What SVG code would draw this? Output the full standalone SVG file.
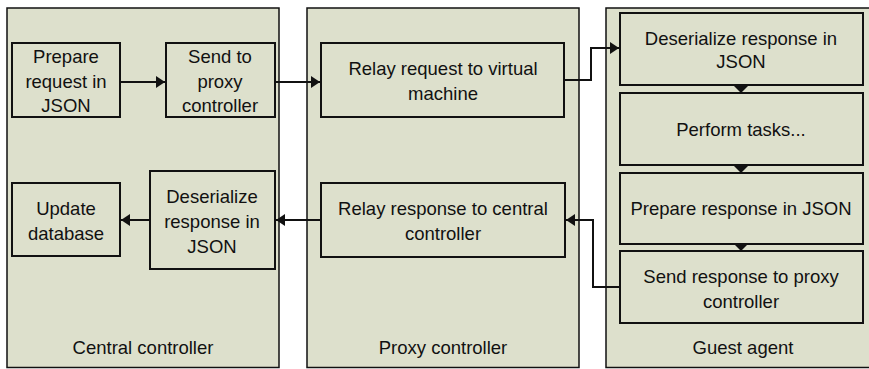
<svg xmlns="http://www.w3.org/2000/svg" width="869" height="369" viewBox="0 0 869 369">
<style>
.panel{fill:#dde0cc;stroke:#111;stroke-width:1.5}
.box{fill:#dde0cc;stroke:#111;stroke-width:2}
.t{font-family:"Liberation Sans",Arial,sans-serif;font-size:18.5px;fill:#111;text-anchor:middle}
.c{fill:none;stroke:#111;stroke-width:2}
</style>
<defs>
<marker id="arr" markerUnits="userSpaceOnUse" markerWidth="10" markerHeight="14" refX="9" refY="7" orient="auto"><path d="M0,1 L9,7 L0,13 z" fill="#111"/></marker>
<marker id="arrFlat" markerUnits="userSpaceOnUse" markerWidth="8" markerHeight="16" refX="7" refY="8" orient="auto"><path d="M0,1 L7,8 L0,15 z" fill="#111"/></marker>
</defs>
<rect width="869" height="369" fill="#fff"/>
<g id="central-panel"><rect class="panel" x="7" y="8" width="272" height="359.5"/><text class="t" x="143" y="354">Central controller</text></g>
<g id="proxy-panel"><rect class="panel" x="307" y="8" width="272" height="359.5"/><text class="t" x="443" y="354">Proxy controller</text></g>
<g id="guest-panel"><rect class="panel" x="606" y="8" width="270" height="359.5"/><text class="t" x="743" y="354">Guest agent</text></g>

<g id="prepare-request"><rect class="box" x="12" y="43" width="108" height="74"/><text class="t" x="66" y="63">Prepare</text><text class="t" x="66" y="88">request in</text><text class="t" x="66" y="112">JSON</text></g>
<g id="send-to-proxy"><rect class="box" x="166" y="43" width="109" height="74"/><text class="t" x="220" y="63">Send to</text><text class="t" x="220" y="88">proxy</text><text class="t" x="220" y="112">controller</text></g>
<g id="relay-request"><rect class="box" x="321" y="43" width="243" height="74"/><text class="t" x="443" y="75">Relay request to virtual</text><text class="t" x="443" y="100">machine</text></g>
<g id="deserialize-guest"><rect class="box" x="620" y="13" width="243" height="72"/><text class="t" x="741" y="45">Deserialize response in</text><text class="t" x="741" y="68">JSON</text></g>
<g id="perform-tasks"><rect class="box" x="620" y="93" width="243" height="72"/><text class="t" x="741" y="136">Perform tasks...</text></g>
<g id="prepare-response"><rect class="box" x="620" y="173" width="243" height="71"/><text class="t" x="741" y="215">Prepare response in JSON</text></g>
<g id="send-response"><rect class="box" x="620" y="251" width="243" height="72"/><text class="t" x="741" y="283">Send response to proxy</text><text class="t" x="741" y="308">controller</text></g>
<g id="relay-response"><rect class="box" x="321" y="183" width="244" height="74"/><text class="t" x="443" y="215">Relay response to central</text><text class="t" x="443" y="240">controller</text></g>
<g id="deserialize-central"><rect class="box" x="150" y="171" width="125" height="98"/><text class="t" x="212" y="203">Deserialize</text><text class="t" x="212" y="228">response in</text><text class="t" x="212" y="253">JSON</text></g>
<g id="update-database"><rect class="box" x="12" y="183" width="108" height="73"/><text class="t" x="66" y="215">Update</text><text class="t" x="66" y="240">database</text></g>

<g id="connectors">
<path class="c" d="M120,82 H165" marker-end="url(#arr)"/>
<path class="c" d="M275,82 H320" marker-end="url(#arr)"/>
<path class="c" d="M564,80 H591 V48 H619" marker-end="url(#arr)"/>
<path class="c" d="M741,85 V93" marker-end="url(#arrFlat)"/>
<path class="c" d="M741,165 V173" marker-end="url(#arrFlat)"/>
<path class="c" d="M741,244 V251" marker-end="url(#arrFlat)"/>
<path class="c" d="M620,287 H593 V220 H566" marker-end="url(#arr)"/>
<path class="c" d="M321,220 H276" marker-end="url(#arr)"/>
<path class="c" d="M150,220 H121" marker-end="url(#arr)"/>
</g>
</svg>
